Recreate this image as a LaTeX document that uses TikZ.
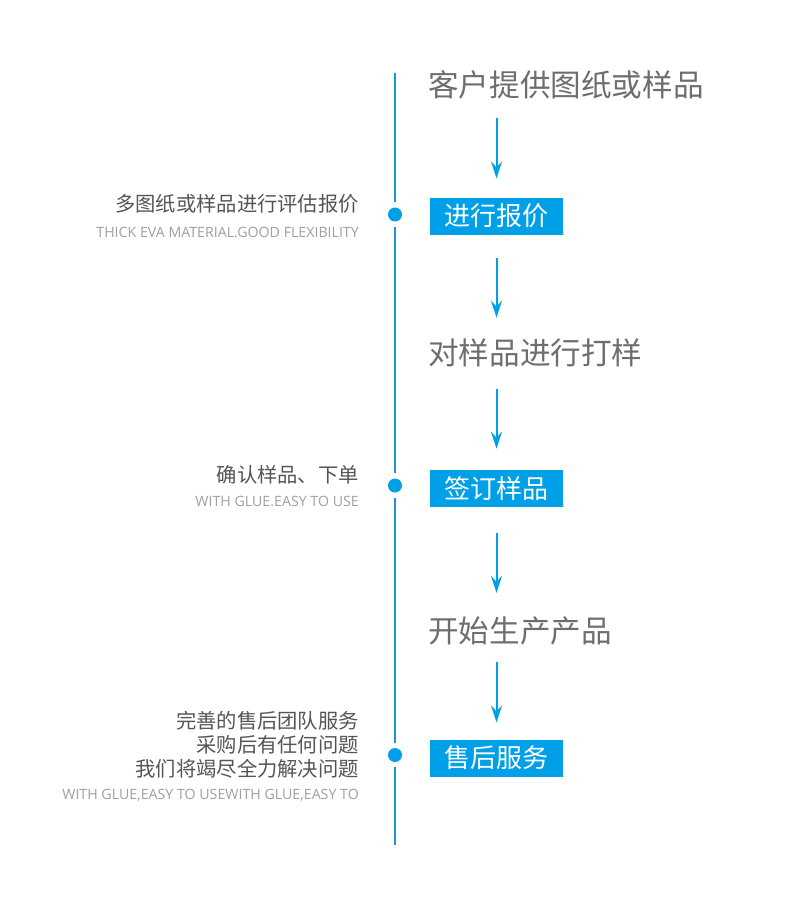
\documentclass[tikz,border=0pt]{standalone}
\usepackage{fontspec}
\setmainfont{Open Sans}
\newfontfamily\cjk{Noto Sans CJK SC}
\usepackage{tikz}
\usetikzlibrary{arrows.meta,positioning,calc}
\definecolor{flowBlue}{HTML}{00A0E9}
\definecolor{flowLine}{HTML}{1A93D7}
\definecolor{flowGrey}{HTML}{6E6E6E}
\definecolor{flowNote}{HTML}{555555}
\definecolor{flowPale}{HTML}{A0A0A0}
\tikzset{
  title/.style={anchor=west,inner sep=0pt,text=flowGrey,
    font=\cjk\fontsize{30.6}{36}\selectfont,text height=24pt,text depth=2.6pt},
  stepbox/.style={fill=flowBlue,text=white,inner sep=0pt,minimum width=133pt,
    minimum height=37pt,font=\cjk\fontsize{26}{30}\selectfont},
  dot/.style={circle,fill=flowBlue,inner sep=0pt,minimum size=14pt},
  note/.style={anchor=east,inner sep=0pt,text=flowNote,align=right,
    font=\cjk\fontsize{20.3}{24}\selectfont,text height=16pt,text depth=1.8pt},
  notesub/.style={anchor=east,inner sep=0pt,text=flowPale,
    font=\fontsize{14.2}{17}\selectfont,text height=10.1pt,text depth=0pt},
  spine/.style={draw=flowLine,line width=1.6pt},
  flow/.style={draw=flowBlue,line width=2pt,-{Stealth[length=17pt,width=11pt,inset=6pt]}}
}
% arrow of fixed length, centred in the gap between #1 and #2, on the line of box #3
\newcommand{\flowarrow}[3]{%
  \path ($($(#1.south)!0.5!(#2.north)$)+(0,30)$) coordinate (mid);
  \draw[flow] (mid -| #3) -- ++(0,-60);}
\begin{document}
\begin{tikzpicture}[x=1pt,y=1pt]
  \useasboundingbox[fill=white] (0,0) rectangle (790,-902);
  % steps on the right
  \node[title] (t1) at (428,-86) {客户提供图纸或样品};
  \node[stepbox] (b1) at (496.5,-216) {进行报价};
  \node[title] (t2) at (428,-354) {对样品进行打样};
  \node[stepbox] (b2) at (496.5,-488.5) {签订样品};
  \node[title] (t3) at (428,-632) {开始生产产品};
  \node[stepbox] (b3) at (496.5,-758) {售后服务};
  \flowarrow{t1}{b1}{b1}
  \flowarrow{b1}{t2}{b1}
  \flowarrow{t2}{b2}{b2}
  \flowarrow{b2}{t3}{b2}
  \flowarrow{t3}{b3}{b3}
  % timeline
  \coordinate (top) at (395,-73);
  \coordinate (bottom) at (395,-845);
  \node[dot] (d1) at (395,-214.5) {};
  \node[dot] (d2) at (395,-485.5) {};
  \node[dot] (d3) at (395,-755) {};
  \draw[spine,shorten >=5pt] (top) -- (d1.north);
  \draw[spine,shorten <=5pt,shorten >=5pt] (d1.south) -- (d2.north);
  \draw[spine,shorten <=5pt,shorten >=5pt] (d2.south) -- (d3.north);
  \draw[spine,shorten <=5pt] (d3.south) -- (bottom);
  % notes on the left
  \node[note] (n1) at (359,-204) {多图纸或样品进行评估报价};
  \node[notesub] (s1) at (359,-232) {THICK EVA MATERIAL.GOOD FLEXIBILITY};
  \node[note] (n2) at (359,-475) {确认样品、下单};
  \node[notesub] (s2) at (359,-501) {WITH GLUE.EASY TO USE};
  \node[note] (n3a) at (359,-721) {完善的售后团队服务};
  \node[note] (n3b) at (359,-745) {采购后有任何问题};
  \node[note] (n3c) at (359,-769) {我们将竭尽全力解决问题};
  \node[notesub] (s3) at (359,-794) {WITH GLUE,EASY TO USEWITH GLUE,EASY TO};
\end{tikzpicture}
\end{document}
